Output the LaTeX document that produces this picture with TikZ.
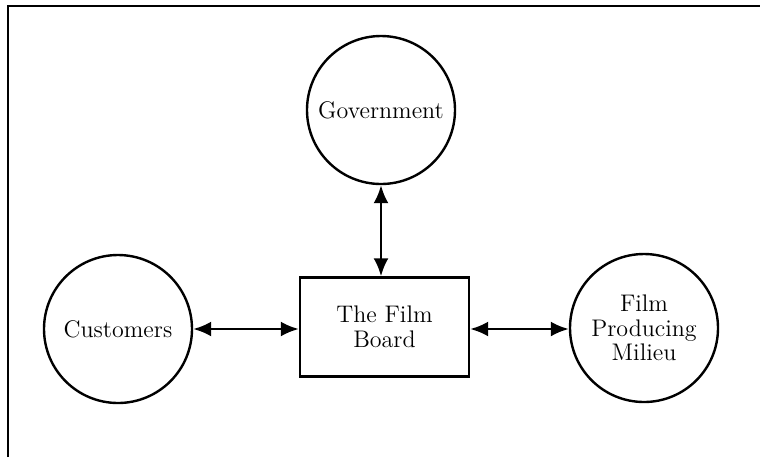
\documentclass[tikz,border=0pt]{standalone}
\usetikzlibrary{arrows.meta}

\begin{document}
\begin{tikzpicture}[x=0.5pt, y=-0.5pt,
    party/.style={draw, circle, line width=1.2pt, minimum size=74pt, inner sep=0pt, align=center, font=\fontsize{12}{12.2}\selectfont},
    board/.style={draw, rectangle, line width=1.2pt, minimum width=84.5pt, minimum height=49.5pt, align=center, font=\fontsize{12}{12.5}\selectfont},
    link/.style={line width=1.3pt, {Latex[length=9pt,width=7.5pt]}-{Latex[length=9pt,width=7.5pt]}}]
    \useasboundingbox (0,0) rectangle (760,457);
    % Frame
    \draw[line width=1.4pt] (8,457) -- (8,6) -- (762,6);

    % Parties
    \node[party] (gov) at (381,110) {Government};
    \node[party] (cust) at (118,329) {Customers};
    \node[party] (milieu) at (644,328) {Film\\Producing\\Milieu};
    \node[board] (fb) at (384.5,327) {The Film\\Board};

    % Links
    \draw[link] (gov.south) -- (gov.south |- fb.north);
    \draw[link] (cust.east) -- (cust.east -| fb.west);
    \draw[link] (fb.east |- cust.east) -- (milieu.west |- cust.east);
\end{tikzpicture}
\end{document}
